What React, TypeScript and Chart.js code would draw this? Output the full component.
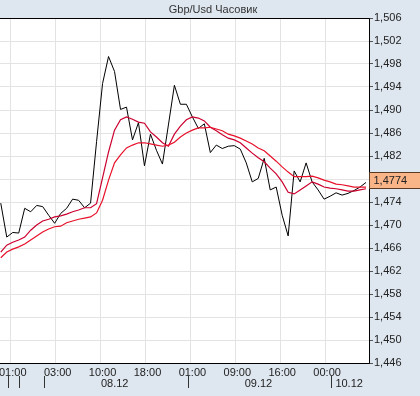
import React, { useEffect, useRef } from "react";
import { Chart, registerables } from "chart.js";

Chart.register(...registerables);

// Hourly close prices (one value per hour index)
const priceValues = [
  1.4738, 1.4679, 1.4687, 1.4686, 1.4729, 1.4723, 1.4734, 1.4732, 1.4717, 1.4703,
  1.4720, 1.4729, 1.4745, 1.4743, 1.4730, 1.4738, 1.4845, 1.4946, 1.4993, 1.4967,
  1.4901, 1.4905, 1.4848, 1.4878, 1.4803, 1.4858, 1.4830, 1.4806, 1.4874, 1.4943,
  1.4910, 1.4910, 1.4888, 1.4868, 1.4876, 1.4826, 1.4839, 1.4833, 1.4837, 1.4838,
  1.4832, 1.4808, 1.4775, 1.4781, 1.4816, 1.4761, 1.4766, 1.4717, 1.4681, 1.4794,
  1.4775, 1.4808, 1.4775, 1.4761, 1.4745, 1.4750, 1.4756, 1.4752, 1.4755, 1.4760,
  1.4766, 1.4774,
];

// Fast moving average
const fastMA = [
  1.4653, 1.4665, 1.4670, 1.4674, 1.4679, 1.4691, 1.4700, 1.4707, 1.4710, 1.4714,
  1.4716, 1.4719, 1.4723, 1.4726, 1.4730, 1.4730, 1.4737, 1.4782, 1.4827, 1.4865,
  1.4883, 1.4888, 1.4884, 1.4879, 1.4877, 1.4862, 1.4853, 1.4843, 1.4837, 1.4858,
  1.4872, 1.4883, 1.4888, 1.4886, 1.4881, 1.4870, 1.4864, 1.4857, 1.4851, 1.4848,
  1.4843, 1.4834, 1.4825, 1.4817, 1.4810, 1.4799, 1.4789, 1.4775, 1.4757, 1.4754,
  1.4761, 1.4768, 1.4775, 1.4771, 1.4766, 1.4764, 1.4763, 1.4761, 1.4759, 1.4759,
  1.4761, 1.4763,
];

// Slow moving average
const slowMA = [
  1.4643, 1.4653, 1.4658, 1.4662, 1.4667, 1.4674, 1.4681, 1.4688, 1.4693, 1.4697,
  1.4698, 1.4704, 1.4707, 1.4710, 1.4712, 1.4714, 1.4721, 1.4743, 1.4778, 1.4808,
  1.4822, 1.4834, 1.4839, 1.4843, 1.4843, 1.4841, 1.4839, 1.4837, 1.4839, 1.4844,
  1.4853, 1.4860, 1.4865, 1.4869, 1.4869, 1.4870, 1.4867, 1.4864, 1.4858, 1.4855,
  1.4851, 1.4846, 1.4841, 1.4834, 1.4829, 1.4820, 1.4811, 1.4801, 1.4792, 1.4784,
  1.4784, 1.4784, 1.4785, 1.4782, 1.4778, 1.4775, 1.4771, 1.4770, 1.4768, 1.4766,
  1.4766, 1.4766,
];

// Time axis (in hour-index units)
const timeTickPositions = [1.67, 9.17, 16.67, 24.17, 31.67, 39.17, 46.67, 54.17];
const timeTickLabels = ["01:00", "03:00", "10:00", "18:00", "01:00", "09:00", "16:00", "00:00"];
const daySeparators = [1.2, 3.0, 7.2, 31.2, 55.2];
const dayStarts = [7.2, 31.2, 55.2];
const dayLabels = ["08.12", "09.12", "10.12"];

const lastPrice = 1.4774;
const titleText = "Gbp/Usd Часовик";
const yMin = 1.446;
const yMax = 1.506;
const yStep = 0.004;

const FONT = "'Liberation Sans', Arial, sans-serif";
const PAGE_BG = "#dee6ef";
const CANVAS_SHIFT = 6;

const fmt = (v: number, d: number) => v.toFixed(d).replace(".", ",");

const decorPlugin = {
  id: "decor",
  beforeDraw(chart: any) {
    const { ctx, chartArea: a } = chart;
    ctx.save();
    ctx.fillStyle = "#ffffff";
    ctx.fillRect(a.left, a.top, a.right - a.left, a.bottom - a.top);
    ctx.restore();
  },
  afterDraw(chart: any) {
    const { ctx, chartArea: a } = chart;
    const xs = chart.scales.x;
    const ys = chart.scales.y;
    ctx.save();
    // frame
    ctx.strokeStyle = "#000000";
    ctx.lineWidth = 1;
    ctx.beginPath();
    ctx.moveTo(a.left, Math.round(a.top) + 0.5);
    ctx.lineTo(Math.round(a.right) + 0.5, Math.round(a.top) + 0.5);
    ctx.lineTo(Math.round(a.right) + 0.5, Math.round(a.bottom) + 0.5);
    ctx.lineTo(a.left, Math.round(a.bottom) + 0.5);
    ctx.stroke();

    // title
    ctx.fillStyle = "#333333";
    ctx.font = `11px ${FONT}`;
    ctx.textAlign = "center";
    ctx.textBaseline = "middle";
    ctx.fillText(titleText, 213 + CANVAS_SHIFT, 10);

    // day separators
    ctx.strokeStyle = "#333333";
    daySeparators.forEach((d) => {
      const px = Math.round(xs.getPixelForValue(d)) + 0.5;
      ctx.beginPath();
      ctx.moveTo(px, a.bottom + 13);
      ctx.lineTo(px, a.bottom + 25);
      ctx.stroke();
    });
    // day labels centered in their span
    ctx.fillStyle = "#222222";
    dayStarts.forEach((s, i) => {
      const e = i + 1 < dayStarts.length ? dayStarts[i + 1] : xs.max;
      const px = (xs.getPixelForValue(s) + xs.getPixelForValue(e)) / 2;
      ctx.fillText(dayLabels[i], px - 1, a.bottom + 20.5);
    });

    // last price box
    const py = ys.getPixelForValue(lastPrice);
    const bx = Math.round(a.right) + 0.5;
    const by = Math.round(py - 10) + 0.5;
    ctx.fillStyle = "#f9b488";
    ctx.fillRect(bx, by, 60, 16);
    ctx.strokeStyle = "#5a3a20";
    ctx.strokeRect(bx, by, 60, 16);
    ctx.fillStyle = "#222222";
    ctx.textAlign = "left";
    ctx.fillText(fmt(lastPrice, 4), bx + 4, by + 8.5);
    ctx.restore();
  },
};

export default function App() {
  const ref = useRef<HTMLCanvasElement | null>(null);

  useEffect(() => {
    if (!ref.current) return;
    const mk = (vals: number[]) => vals.map((v, i) => ({ x: i, y: v }));
    const chart = new Chart(ref.current, {
      type: "line",
      data: {
        datasets: [
          {
            label: "slow",
            data: mk(slowMA),
            borderColor: "#e8102a",
            borderWidth: 1.2,
            pointRadius: 0,
            tension: 0,
          },
          {
            label: "fast",
            data: mk(fastMA),
            borderColor: "#cc002e",
            borderWidth: 1.2,
            pointRadius: 0,
            tension: 0,
          },
          {
            label: "price",
            data: mk(priceValues),
            borderColor: "#000000",
            borderWidth: 1,
            pointRadius: 0,
            tension: 0,
          },
        ],
      },
      options: {
        animation: false,
        responsive: false,
        maintainAspectRatio: false,
        devicePixelRatio: 1,
        layout: { padding: { top: 18, left: 0, right: 0, bottom: 0 } },
        plugins: { legend: { display: false }, tooltip: { enabled: false }, title: { display: false } },
        scales: {
          x: {
            type: "linear",
            min: -1,
            max: 61.5,
            afterBuildTicks: (s: any) => {
              s.ticks = timeTickPositions.map((v) => ({ value: v }));
            },
            afterFit: (s: any) => {
              s.height = 33;
            },
            grid: { color: "#e3e3e3", drawTicks: false, lineWidth: 1 },
            border: { display: false },
            ticks: {
              padding: 3,
              labelOffset: 2,
              maxRotation: 0,
              autoSkip: false,
              color: "#222222",
              font: { family: FONT, size: 11 },
              callback: (_v: any, i: number) => timeTickLabels[i],
            },
          },
          y: {
            position: "right",
            min: yMin,
            max: yMax,
            afterFit: (s: any) => {
              s.width = 51;
            },
            grid: { color: "#e3e3e3", tickColor: "#555555", tickLength: 4, lineWidth: 1 },
            border: { display: false },
            ticks: {
              stepSize: yStep,
              padding: 1,
              color: "#222222",
              font: { family: FONT, size: 11 },
              callback: (v: any) => fmt(Number(v), 3),
            },
          },
        },
      },
      plugins: [decorPlugin],
    });
    return () => chart.destroy();
  }, []);

  return (
    <div
      style={{
        position: "fixed",
        left: -CANVAS_SHIFT,
        top: 0,
        width: 420 + CANVAS_SHIFT,
        height: 396,
        background: PAGE_BG,
      }}
    >
      <canvas ref={ref} width={420 + CANVAS_SHIFT} height={396} style={{ display: "block" }} />
    </div>
  );
}
